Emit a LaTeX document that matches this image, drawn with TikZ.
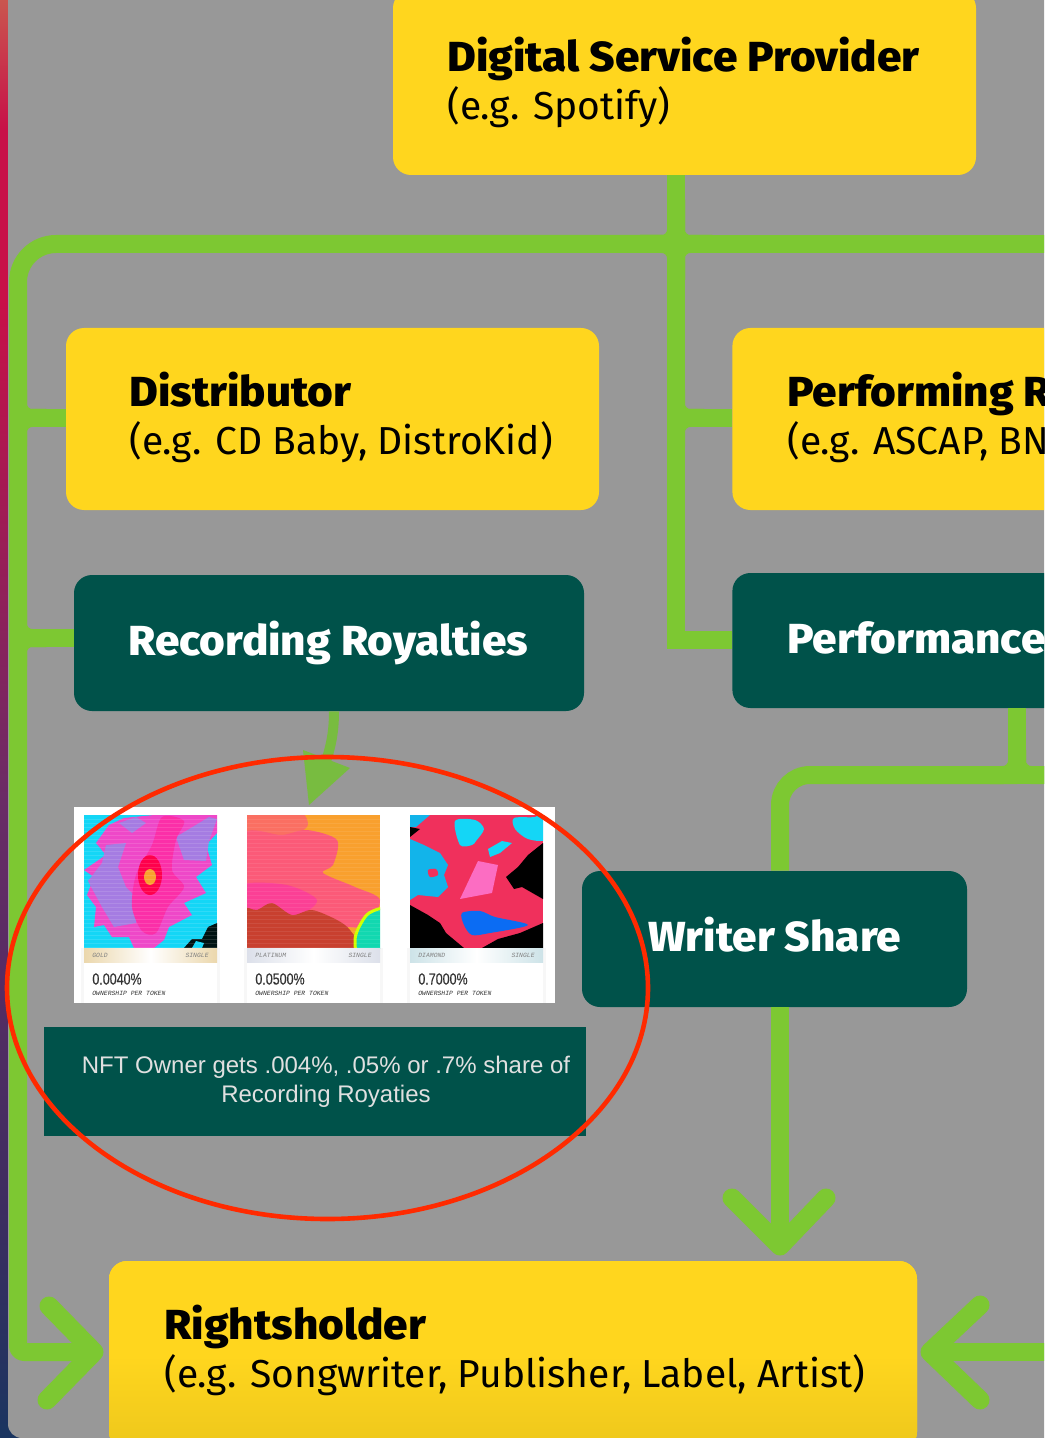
\documentclass[tikz,border=0pt]{standalone}
\usepackage{fontspec}
\setmainfont[BoldFont={Fira Sans ExtraBold},BoldFeatures={FakeStretch=1.05}]{Fira Sans}
\newfontfamily\nftfont{Liberation Sans}
\newfontfamily\cardfont[FakeStretch=0.78,FakeBold=0.3]{Liberation Sans}
\newfontfamily\tinyfont{Liberation Mono}
\usepackage{xcolor}
\definecolor{panelgrey}{HTML}{989898}
\definecolor{boxyellow}{HTML}{FFD61E}
\definecolor{boxteal}{HTML}{00524A}
\definecolor{flowgreen}{HTML}{7DC832}
\definecolor{handgreen}{HTML}{78BC40}
\definecolor{ringred}{HTML}{FF2A00}
\definecolor{stripa}{HTML}{C9564F}
\definecolor{stripb}{HTML}{C81048}
\definecolor{stripc}{HTML}{6A2C66}
\definecolor{stripd}{HTML}{3E2D60}
\definecolor{stripe}{HTML}{1A3560}
\definecolor{neoncyan}{HTML}{14D6F6}
\definecolor{neonblue}{HTML}{12B4EA}
\definecolor{neonpink}{HTML}{EE48C8}
\definecolor{hotpink}{HTML}{FB2FA8}
\definecolor{neonpurple}{HTML}{A57CE2}
\definecolor{neonorange}{HTML}{F9A02E}
\definecolor{salmon}{HTML}{FB5A78}
\definecolor{rust}{HTML}{C8402F}
\definecolor{neonred}{HTML}{F0305C}
\definecolor{seagreen}{HTML}{12D8B0}
\definecolor{goldstrip}{HTML}{EBD7AC}
\definecolor{platinumstrip}{HTML}{DCE0EA}
\definecolor{diamondstrip}{HTML}{CDE3E8}
\newcommand{\boxhead}[1]{{\fontsize{21}{24}\selectfont\bfseries #1}}
\tikzset{%
	yellowbox/.style={
		fill=boxyellow,
		rounded corners=9pt,
		inner sep=0pt
	},
	tealbox/.style={
		fill=boxteal,
		rounded corners=9pt,
		inner sep=0pt
	},
	darktext/.style={
		text=black,
		align=left,
		anchor=west,
		inner sep=0pt,
		font=\fontsize{19.5}{24}\selectfont
	},
	lighttext/.style={
		text=white,
		anchor=west,
		inner sep=0pt,
		font=\fontsize{21}{24}\selectfont\bfseries
	},
	flow/.style={
		draw=flowgreen,
		line width=9pt,
		line join=round,
		line cap=round
	},
	chevron/.style={
		draw=flowgreen,
		line width=9.5pt,
		line join=round,
		line cap=round
	},
	branch/.style={
		draw=flowgreen,
		line width=9pt
	},
	fillet/.style={
		draw=flowgreen,
		line width=9pt,
		rounded corners=7pt
	},
	stripnote/.style={
		font=\tinyfont\itshape\fontsize{3.2}{3.2}\selectfont,
		text=black!50,
		inner sep=0pt
	},
	percent/.style={
		font=\cardfont\fontsize{8}{8}\selectfont,
		text=black!80,
		inner sep=0pt,
		anchor=west
	},
	ownernote/.style={
		font=\tinyfont\itshape\fontsize{3.2}{3.2}\selectfont,
		text=black!80,
		inner sep=0pt,
		anchor=west
	},
}
\begin{document}
\begin{tikzpicture}[x=0.5pt,y=-0.5pt]
	\useasboundingbox (0,0) rectangle (1044,1438);
	\clip (0,0) rectangle (1044,1438);

	% Draw the desktop strip and the grey panel
	\shade[top color=stripa, bottom color=stripb] (0,0) rectangle (30,130);
	\fill[stripb] (0,130) rectangle (30,300);
	\shade[top color=stripb, bottom color=stripc] (0,300) rectangle (30,800);
	\shade[top color=stripc, bottom color=stripd] (0,800) rectangle (30,1200);
	\shade[top color=stripd, bottom color=stripe] (0,1200) rectangle (30,1438);
	\fill[panelgrey, rounded corners=7pt] (8,-30) rectangle (1100,1438);

	% Draw the boxes
	\node (provider) [yellowbox, minimum width=291.5pt, minimum height=92.5pt] at (684.5,82.5) {};
	\node (distributor) [yellowbox, minimum width=266.5pt, minimum height=91pt] at (332.5,419) {};
	\node (performing) [yellowbox, minimum width=170pt, minimum height=91pt, anchor=west] at (732,419) {};
	\node (recording) [tealbox, minimum width=255pt, minimum height=68pt] at (329,643) {};
	\node (performance) [tealbox, minimum width=170pt, minimum height=67.5pt, anchor=west] at (732,640.5) {};
	\node (writer) [tealbox, minimum width=192.5pt, minimum height=68pt] at (774.5,939) {};
	\node (rightsholder) [yellowbox, minimum width=404pt, minimum height=94.5pt, bottom color=boxyellow!93!black, top color=boxyellow, middle color=boxyellow] at (513,1355.5) {};
	\node (nftbox) [fill=boxteal, minimum width=271pt, minimum height=54.5pt, inner sep=0pt] at (315,1081.5) {};

	% Draw the box texts
	\node (providertext) [darktext] at (447,82.5) {\boxhead{Digital Service Provider}\\(e.g. Spotify)};
	\node (distributortext) [darktext] at (129,417) {\boxhead{Distributor}\\(e.g. CD Baby, DistroKid)};
	\node (performingtext) [darktext] at (787,417) {\boxhead{Performing R}\\(e.g. ASCAP, BN};
	\node (recordingtext) [lighttext] at (128,643.5) {Recording Royalties};
	\node (performancetext) [lighttext] at (787,637.5) {Performance};
	\node (writertext) [lighttext] at (648,935) {Writer Share};
	\node (rightsholdertext) [darktext] at (164,1350) {\boxhead{Rightsholder}\\(e.g. Songwriter, Publisher, Label, Artist)};
	\node (nfttext) [font=\nftfont\fontsize{12}{14.5}\selectfont, text=white!88!black, align=center, inner sep=0pt] at (326,1082) {NFT Owner gets .004\%, .05\% or .7\% share of\\Recording Royaties};

	% Draw the connectors
	\coordinate (topjoin) at (676,244);
	\coordinate (topleft) at (18,244);
	\coordinate (bottomleft) at (18,1352);
	\coordinate (lefthead) at (94,1352);
	\draw[branch] (provider.south -| topjoin) -- (topjoin);
	\draw[branch] (1060,244) -- (topjoin);
	\draw[flow, line cap=butt, rounded corners=19pt] (topjoin) -- (topleft) -- (18,1000);
	\draw[flow, line cap=butt, rounded corners=3pt] (18,1000) -- (bottomleft) -- (lefthead);
	\draw[chevron] (49,1306) -- (lefthead) -- (47,1400);
	\draw[branch] (18,418) -- (distributor.west |- 18,418);
	\draw[branch] (18,638) -- (recording.west |- 18,638);
	\draw[branch] (topjoin) -- (676,418) -- (performing.west |- 676,418);
	\draw[branch] (676,418) -- (676,640) -- (performance.west |- 676,640);
	\draw[fillet] (640,244) -- (topjoin) -- (676,200);
	\draw[fillet] (712,244) -- (topjoin) -- (676,200);
	\draw[fillet] (640,244) -- (topjoin) -- (676,280);
	\draw[fillet] (712,244) -- (topjoin) -- (676,280);
	\draw[fillet] (18,390) -- (18,418) -- (46,418);
	\draw[fillet] (18,446) -- (18,418) -- (46,418);
	\draw[fillet] (18,610) -- (18,638) -- (46,638);
	\draw[fillet] (18,666) -- (18,638) -- (46,638);
	\draw[fillet] (676,390) -- (676,418) -- (704,418);
	\draw[fillet] (676,446) -- (676,418) -- (704,418);

	\coordinate (writerjoin) at (1017,775);
	\coordinate (writercorner) at (780,775);
	\draw[branch] (performance.south -| writerjoin) -- (writerjoin);
	\draw[branch] (1060,775) -- (writerjoin);
	\draw[branch, rounded corners=15pt] (writerjoin) -- (writercorner) -- (writer.north -| writercorner);
	\draw[fillet] (1017,750) -- (writerjoin) -- (990,775);
	\draw[fillet] (1017,750) -- (writerjoin) -- (1044,775);
	\coordinate (writerhead) at (780,1246);
	\draw[branch] (writer.south -| writerhead) -- (writerhead);
	\draw[chevron] (732,1198) -- (writerhead) -- (826,1198);
	\coordinate (righthead) at (930,1352);
	\draw[branch] (1060,1352) -- (righthead);
	\draw[chevron] (980,1305) -- (righthead) -- (980,1400);

	% Draw the hand drawn arrow
	\coordinate (handtip) at (309,805);
	\draw[draw=handgreen, line width=5pt] (recording.south -| 334,710) .. controls (334,735) and (330,750) .. (323,770);
	\fill[handgreen] (303,750) -- (350,768) -- (handtip) -- cycle;

	% Draw the white sheet and the cards
	\fill[white] (74,807) rectangle (555,1003);
	\fill[black!3] (81,948) rectangle (220,1003);
	\fill[white] (84,948) rectangle (217,1003);
	\fill[black!3] (244,948) rectangle (383,1003);
	\fill[white] (247,948) rectangle (380,1003);
	\fill[black!3] (407,948) rectangle (546,1003);
	\fill[white] (410,948) rectangle (543,1003);

	% First card
	\begin{scope}[shift={(84,815)}]
		\begin{scope}
			\clip (0,0) rectangle (133,133);
			\fill[neoncyan] (0,0) rectangle (133,133);
			\fill[neonpink] (25,10) -- (40,3) -- (70,0) -- (133,0) -- (133,18) -- (122,30) -- (128,50) -- (112,62) -- (122,78) -- (100,88) -- (108,100) -- (85,112) -- (80,125) -- (70,133) -- (50,133) -- (45,122) -- (28,122) -- (20,110) -- (10,112) -- (12,92) -- (3,80) -- (10,62) -- (0,55) -- (22,40) -- (12,28) -- cycle;
			\fill[neonpurple] (4,66) -- (18,48) -- (22,30) -- (42,28) -- (34,52) -- (42,72) -- (54,84) -- (52,108) -- (30,112) -- (18,92) -- cycle;
			\fill[neonpurple] (35,8) -- (52,2) -- (62,8) -- (48,18) -- cycle;
			\fill[neonpurple] (92,22) -- (125,2) -- (133,4) -- (125,26) -- (122,46) -- (100,45) -- cycle;
			\fill[hotpink] plot[smooth cycle] coordinates {(78,2) (100,6) (92,25) (88,55) (100,72) (84,92) (72,118) (58,116) (48,92) (52,60) (68,30)};
			\fill[red!70!magenta] (66,60) ellipse (12 and 20);
			\fill[neonorange] (66,62) ellipse (6 and 8);
			\fill[black!85!teal] (100,133) -- (108,124) -- (118,124) -- (124,112) -- (133,108) -- (133,133) -- cycle;
			\fill[neoncyan] (108,133) -- (112,126) -- (120,128) -- (118,133) -- cycle;
			\foreach \i in {4,8,...,132}
				\draw[white, opacity=0.12, line width=0.5pt] (0,\i) -- (133,\i);
		\end{scope}
		\shade[left color=goldstrip, right color=goldstrip, middle color=white] (0,133) rectangle (133,147);
		\node (goldtier) [stripnote, anchor=west] at (8,140) {GOLD};
		\node (goldkind) [stripnote, anchor=east] at (125,140) {SINGLE};
		\node (goldshare) [percent] at (8,164) {0.0040\%};
		\node (goldowner) [ownernote] at (8,178) {OWNERSHIP PER TOKEN};
	\end{scope}

	% Second card
	\begin{scope}[shift={(247,815)}]
		\begin{scope}
			\clip (0,0) rectangle (133,133);
			\fill[neonorange] (0,0) rectangle (133,133);
			\fill[salmon!70!neonorange] plot[smooth cycle] coordinates {(-5,-5) (50,-5) (60,12) (30,25) (-5,30)};
			\fill[salmon] plot[smooth cycle] coordinates {(-5,20) (35,20) (60,15) (90,25) (86,50) (76,58) (108,72) (133,85) (115,112) (60,105) (-5,100)};
			\fill[hotpink!60!salmon] plot[smooth cycle] coordinates {(-5,70) (40,70) (70,85) (50,100) (-5,100)};
			\fill[rust] plot[smooth cycle] coordinates {(-5,95) (10,95) (25,88) (45,100) (65,95) (90,105) (103,115) (110,133) (60,140) (-5,140)};
			\fill[seagreen, draw=lime!70!yellow, line width=1.5pt] plot[smooth cycle] coordinates {(140,96) (122,98) (112,112) (108,125) (112,140) (140,140)};
			\foreach \i in {4,8,...,132}
				\draw[white, opacity=0.08, line width=0.5pt] (0,\i) -- (133,\i);
		\end{scope}
		\shade[left color=platinumstrip, right color=platinumstrip, middle color=white] (0,133) rectangle (133,147);
		\node (platinumtier) [stripnote, anchor=west] at (8,140) {PLATINUM};
		\node (platinumkind) [stripnote, anchor=east] at (125,140) {SINGLE};
		\node (platinumshare) [percent] at (8,164) {0.0500\%};
		\node (platinumowner) [ownernote] at (8,178) {OWNERSHIP PER TOKEN};
	\end{scope}

	% Third card
	\begin{scope}[shift={(410,815)}]
		\begin{scope}
			\clip (0,0) rectangle (133,133);
			\fill[neonred] (0,0) rectangle (133,133);
			\fill[neonblue] (0,0) -- (20,0) -- (6,12) -- (0,12) -- cycle;
			\fill[black] (0,12) -- (10,14) -- (0,22) -- cycle;
			\fill[neonblue] (0,24) -- (14,30) -- (30,38) -- (38,50) -- (34,60) -- (38,72) -- (28,82) -- (8,80) -- (0,85) -- cycle;
			\fill[neonred] plot[smooth cycle] coordinates {(18,55) (26,54) (28,60) (20,62)};
			\fill[neoncyan] plot[smooth cycle] coordinates {(45,6) (65,5) (74,14) (66,26) (62,30) (50,30)};
			\fill[neoncyan] plot[smooth cycle] coordinates {(104,3) (125,2) (136,-3) (136,24) (118,24) (105,14)};
			\fill[neoncyan] (78,34) -- (92,26) -- (102,28) -- (90,38) -- (80,42) -- cycle;
			\fill[black] (133,28) -- (118,40) -- (108,52) -- (96,62) -- (104,74) -- (112,72) -- (133,84) -- cycle;
			\fill[black] (0,90) -- (18,100) -- (30,108) -- (36,118) -- (54,133) -- (0,133) -- cycle;
			\fill[black] (72,133) -- (88,124) -- (110,118) -- (133,108) -- (133,133) -- cycle;
			\fill[neonblue!60!blue] plot[smooth cycle] coordinates {(52,98) (70,96) (85,102) (118,110) (80,118) (62,120) (54,110)};
			\fill[hotpink!70!white] (50,84) -- (68,46) -- (88,50) -- (82,78) -- cycle;
		\end{scope}
		\shade[left color=diamondstrip, right color=diamondstrip, middle color=white] (0,133) rectangle (133,147);
		\node (diamondtier) [stripnote, anchor=west] at (8,140) {DIAMOND};
		\node (diamondkind) [stripnote, anchor=east] at (125,140) {SINGLE};
		\node (diamondshare) [percent] at (8,164) {0.7000\%};
		\node (diamondowner) [ownernote] at (8,178) {OWNERSHIP PER TOKEN};
	\end{scope}

	% Draw the red ring
	\draw[ringred, line width=2.3pt] (327.5,988) ellipse (320.5 and 231);
\end{tikzpicture}
\end{document}
